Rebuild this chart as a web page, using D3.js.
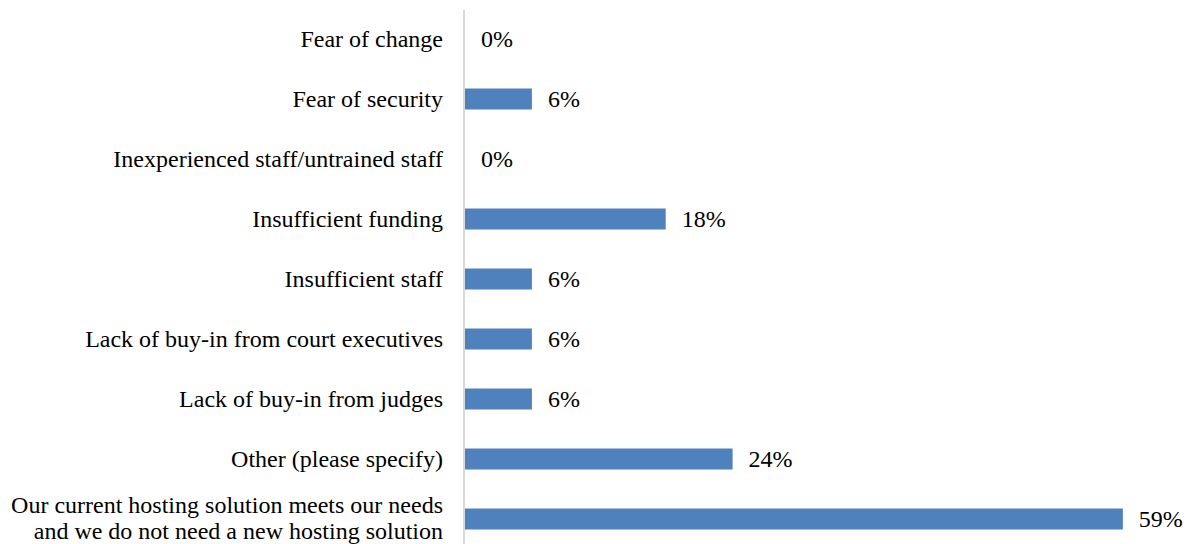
<!DOCTYPE html>
<html>
<head>
<meta charset="utf-8">
<script src="https://cdn.jsdelivr.net/npm/d3@7"></script>
<style>
  html, body { margin: 0; padding: 0; background: #fff; }
  svg { display: block; }
  text { font-family: "Liberation Serif", "Times New Roman", serif; fill: #000; }
</style>
</head>
<body>
<svg id="chart" width="1187" height="544"></svg>
<script>
// Reasons given, top to bottom
const categories = [
  "Fear of change",
  "Fear of security",
  "Inexperienced staff/untrained staff",
  "Insufficient funding",
  "Insufficient staff",
  "Lack of buy-in from court executives",
  "Lack of buy-in from judges",
  "Other (please specify)",
  "Our current hosting solution meets our needs\nand we do not need a new hosting solution"
];
// Share of respondents (%)
const values = [0, 6, 0, 18, 6, 6, 6, 24, 59];

const svg = d3.select("#chart");
const axisX = 464;

const x = d3.scaleLinear().domain([0, 60]).range([axisX + 1, axisX + 1 + 669]);
const y = d3.scaleBand().domain(categories).range([9, 549]).paddingInner(0.65).paddingOuter(0.325);

// bars
svg.selectAll("rect.bar")
  .data(values)
  .enter().append("rect")
  .attr("class", "bar")
  .attr("x", x(0))
  .attr("y", (d, i) => y(categories[i]))
  .attr("width", d => x(d) - x(0))
  .attr("height", y.bandwidth())
  .attr("fill", "#4f81bd");

// vertical category axis line
svg.append("line")
  .attr("x1", axisX).attr("x2", axisX)
  .attr("y1", 10).attr("y2", 544)
  .attr("stroke", "#d9d9d9")
  .attr("stroke-width", 2);

// category labels
const fs = 24;
svg.selectAll("text.cat")
  .data(categories)
  .enter().append("text")
  .attr("class", "cat")
  .attr("text-anchor", "end")
  .attr("font-size", fs)
  .each(function(d) {
    const lines = d.split("\n");
    const cy = y(d) + y.bandwidth() / 2 - (lines.length > 1 ? 1 : 0);
    const lh = 26;
    const t = d3.select(this);
    lines.forEach((ln, k) => {
      t.append("tspan")
        .attr("x", 443)
        .attr("y", cy + (k - (lines.length - 1) / 2) * lh)
        .attr("dy", "0.35em")
        .text(ln);
    });
  });

// value labels
svg.selectAll("text.val")
  .data(values)
  .enter().append("text")
  .attr("class", "val")
  .attr("font-size", fs)
  .attr("x", d => x(d) + 16)
  .attr("y", (d, i) => y(categories[i]) + y.bandwidth() / 2)
  .attr("dy", "0.35em")
  .text(d => d + "%");
</script>
</body>
</html>
